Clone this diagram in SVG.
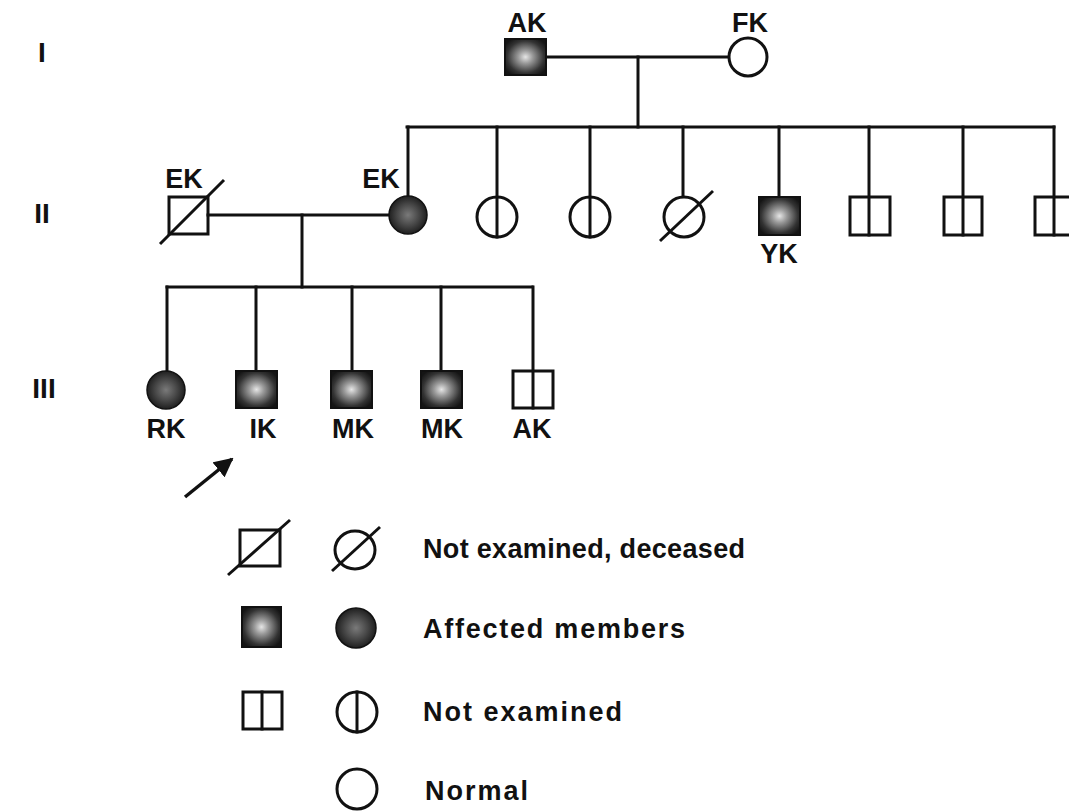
<svg xmlns="http://www.w3.org/2000/svg" width="1069" height="811" viewBox="0 0 1069 811">
<defs>
<radialGradient id="gsq" cx="50%" cy="50%" r="60%">
<stop offset="0%" stop-color="#e6e6e6"/>
<stop offset="30%" stop-color="#999999"/>
<stop offset="75%" stop-color="#333333"/>
<stop offset="100%" stop-color="#151515"/>
</radialGradient>
<radialGradient id="gci" cx="50%" cy="50%" r="55%">
<stop offset="0%" stop-color="#7a7a7a"/>
<stop offset="55%" stop-color="#444444"/>
<stop offset="100%" stop-color="#161616"/>
</radialGradient>
<marker id="ah" viewBox="0 0 10 10" refX="9" refY="5" markerWidth="5.5" markerHeight="5.5" orient="auto" markerUnits="strokeWidth">
<path d="M0,0 L10,5 L0,10 z" fill="#111"/>
</marker>
</defs>
<style>
.ln{stroke:#111;stroke-width:3;fill:none;stroke-linecap:square}
.op{stroke:#111;stroke-width:3;fill:#fff}
.af{stroke:#111;stroke-width:2;fill:url(#gsq)}
.ac{stroke:#111;stroke-width:1.5;fill:url(#gci)}
.t{font-family:"Liberation Sans",Arial,sans-serif;font-weight:bold;font-size:27px;fill:#111}
.c{text-anchor:middle}
.gen{font-family:"Liberation Sans",Arial,sans-serif;font-weight:bold;font-size:28px;fill:#111;text-anchor:middle}
</style>
<rect width="1069" height="811" fill="#ffffff"/>

<g id="generations">
<text class="gen" x="42" y="62">I</text>
<text class="gen" x="42" y="223">II</text>
<text class="gen" x="44" y="398">III</text>
</g>

<g id="connectors">
<line class="ln" x1="546" y1="57" x2="729" y2="57"/>
<line class="ln" x1="638" y1="57" x2="638" y2="127"/>
<line class="ln" x1="407" y1="127" x2="1054" y2="127"/>
<line class="ln" x1="408" y1="127" x2="408" y2="196"/>
<line class="ln" x1="497" y1="127" x2="497" y2="237"/>
<line class="ln" x1="590" y1="127" x2="590" y2="237"/>
<line class="ln" x1="683" y1="127" x2="683" y2="197"/>
<line class="ln" x1="779" y1="127" x2="779" y2="197"/>
<line class="ln" x1="869" y1="127" x2="869" y2="235"/>
<line class="ln" x1="963" y1="127" x2="963" y2="235"/>
<line class="ln" x1="1054" y1="127" x2="1054" y2="235"/>
<line class="ln" x1="208" y1="215" x2="389" y2="215"/>
<line class="ln" x1="302" y1="215" x2="302" y2="287"/>
<line class="ln" x1="167" y1="287" x2="532" y2="287"/>
<line class="ln" x1="167" y1="287" x2="167" y2="371"/>
<line class="ln" x1="256" y1="287" x2="256" y2="371"/>
<line class="ln" x1="352" y1="287" x2="352" y2="371"/>
<line class="ln" x1="441" y1="287" x2="441" y2="371"/>
<line class="ln" x1="533" y1="287" x2="533" y2="408"/>
</g>

<g id="I-AK">
<rect class="af" x="505" y="39" width="41" height="36"/>
<text class="t c" x="527" y="32">AK</text>
</g>
<g id="I-FK">
<circle class="op" cx="748" cy="57" r="19"/>
<text class="t c" x="750" y="32">FK</text>
</g>

<g id="II-EK-husband">
<rect class="op" style="fill:none" x="169" y="197" width="39" height="37"/>
<line class="ln" x1="160" y1="244" x2="224" y2="180" style="stroke-linecap:butt"/>
<text class="t c" x="184" y="188">EK</text>
</g>
<g id="II-EK">
<circle class="ac" cx="408" cy="215" r="19"/>
<text class="t c" x="381" y="188">EK</text>
</g>
<g id="II-f1">
<circle class="op" style="fill:none" cx="497" cy="217" r="20"/>
</g>
<g id="II-f2">
<circle class="op" style="fill:none" cx="590" cy="217" r="20"/>
</g>
<g id="II-f3">
<circle class="op" cx="684" cy="217" r="20"/>
<line class="ln" x1="660" y1="241" x2="713" y2="191" style="stroke-linecap:butt"/>
</g>
<g id="II-YK">
<rect class="af" x="759" y="197" width="41" height="38"/>
<text class="t c" x="779" y="263">YK</text>
</g>
<g id="II-m1">
<rect class="op" style="fill:none" x="850" y="197" width="40" height="38"/>
</g>
<g id="II-m2">
<rect class="op" style="fill:none" x="944" y="197" width="38" height="38"/>
</g>
<g id="II-m3">
<rect class="op" style="fill:none" x="1035" y="197" width="38" height="38"/>
</g>

<g id="III-RK">
<circle class="ac" cx="166" cy="390" r="19"/>
<text class="t c" x="166" y="438">RK</text>
</g>
<g id="III-IK">
<rect class="af" x="236" y="371" width="41" height="37"/>
<text class="t c" x="263" y="438">IK</text>
</g>
<g id="III-MK1">
<rect class="af" x="331" y="371" width="41" height="37"/>
<text class="t c" x="353" y="438">MK</text>
</g>
<g id="III-MK2">
<rect class="af" x="421" y="371" width="41" height="37"/>
<text class="t c" x="442" y="438">MK</text>
</g>
<g id="III-AK">
<rect class="op" style="fill:none" x="513" y="371" width="40" height="37"/>
<text class="t c" x="532" y="438">AK</text>
</g>

<g id="proband-arrow">
<line x1="185" y1="497" x2="232" y2="459" stroke="#111" stroke-width="3.5" marker-end="url(#ah)"/>
</g>

<g id="legend">
<rect class="op" style="fill:none" x="240" y="530" width="40" height="36"/>
<line class="ln" x1="228" y1="575" x2="290" y2="520" style="stroke-linecap:butt"/>
<ellipse class="op" style="fill:none" cx="355" cy="550" rx="20" ry="19"/>
<line class="ln" x1="332" y1="571" x2="380" y2="527" style="stroke-linecap:butt"/>
<text class="t" x="423" y="558" textLength="322" lengthAdjust="spacing">Not examined, deceased</text>

<rect class="af" x="242" y="607" width="39" height="40"/>
<circle class="ac" cx="356" cy="628" r="20"/>
<text class="t" x="423" y="638" textLength="262" lengthAdjust="spacing">Affected members</text>

<rect class="op" style="fill:none" x="243" y="692" width="39" height="37"/>
<line class="ln" x1="262" y1="692" x2="262" y2="729"/>
<ellipse class="op" style="fill:none" cx="357" cy="712" rx="20" ry="20"/>
<line class="ln" x1="357" y1="692" x2="357" y2="732"/>
<text class="t" x="423" y="721" textLength="199" lengthAdjust="spacing">Not examined</text>

<circle class="op" style="fill:none" cx="357" cy="789" r="20"/>
<text class="t" x="425" y="800" textLength="103" lengthAdjust="spacing">Normal</text>
</g>
</svg>
